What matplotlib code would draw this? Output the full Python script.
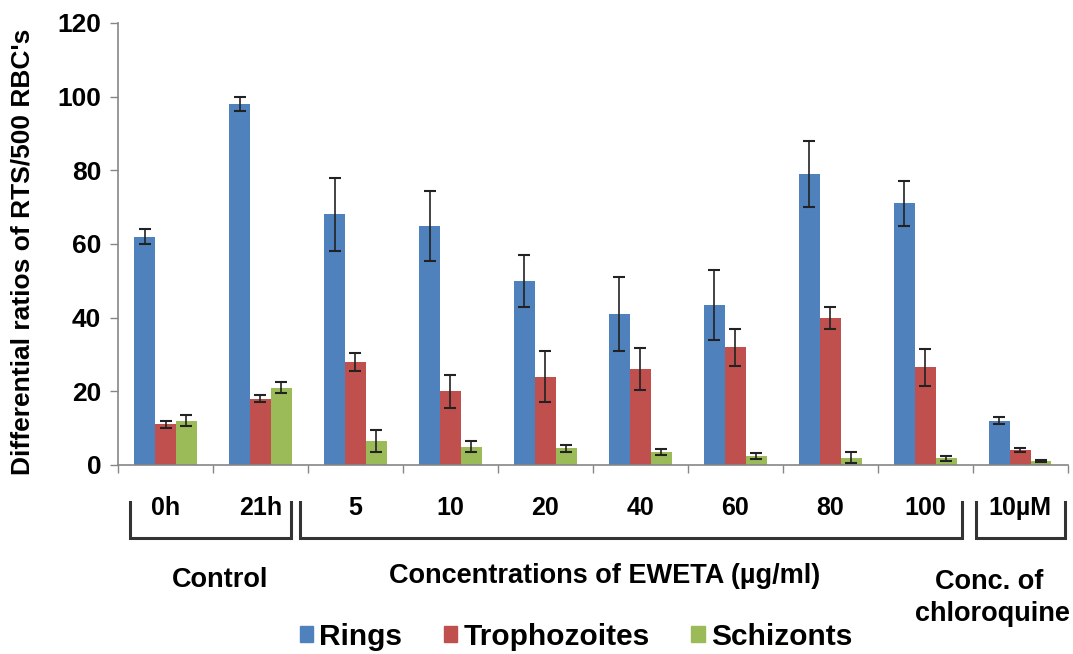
import matplotlib
matplotlib.use('Agg')
import matplotlib.pyplot as plt
from matplotlib.lines import Line2D
from matplotlib.patches import Patch
from matplotlib.transforms import blended_transform_factory
import numpy as np

plt.rcParams['font.family'] = ['Liberation Sans', 'DejaVu Sans']
plt.rcParams['font.weight'] = 'bold'
plt.rcParams['axes.labelweight'] = 'bold'

categories = ['0h', '21h', '5', '10', '20', '40', '60', '80', '100', '10µM']

rings = [62, 98, 68, 65, 50, 41, 43.5, 79, 71, 12]
rings_err = [2, 2, 10, 9.5, 7, 10, 9.5, 9, 6, 1]

trophozoites = [11, 18, 28, 20, 24, 26, 32, 40, 26.5, 4]
trophozoites_err = [1, 1, 2.5, 4.5, 7, 5.7, 5, 3, 5, 0.5]

schizonts = [12, 21, 6.5, 5, 4.5, 3.5, 2.5, 2, 1.8, 1]
schizonts_err = [1.5, 1.5, 3, 1.5, 1, 0.8, 0.8, 1.5, 0.7, 0.3]

series_names = ['Rings', 'Trophozoites', 'Schizonts']
colors = ['#4F81BD', '#C0504D', '#9BBB59']

fig = plt.figure(figsize=(10.73, 6.54), dpi=100)
ax = fig.add_axes([0.110, 0.289, 0.885, 0.676])

x = np.arange(len(categories))
w = 0.22
grey = '#868686'
for k, (vals, errs) in enumerate([(rings, rings_err),
                                  (trophozoites, trophozoites_err),
                                  (schizonts, schizonts_err)]):
    ax.bar(x + (k - 1) * w, vals, w, color=colors[k], label=series_names[k],
           yerr=errs, error_kw=dict(ecolor='#222222', elinewidth=1.2,
                                    capsize=4.5, capthick=1.5))

ax.set_xlim(-0.5, len(categories) - 0.5)
ax.set_ylim(0, 120)
ax.set_yticks(np.arange(0, 121, 20))
ax.tick_params(axis='y', labelsize=19, length=6, width=1, color=grey, pad=6)

# ticks between categories, labels centered
ax.set_xticks(np.arange(-0.5, len(categories), 1))
ax.set_xticklabels([])
ax.set_xticks(x, minor=True)
ax.set_xticklabels(categories, minor=True, fontsize=18)
ax.tick_params(axis='x', which='major', length=6, width=1, color=grey)
ax.tick_params(axis='x', which='minor', length=0, pad=22)

for s in ['top', 'right']:
    ax.spines[s].set_visible(False)
for s in ['left', 'bottom']:
    ax.spines[s].set_color(grey)
    ax.spines[s].set_linewidth(1.2)

ax.set_ylabel("Differential ratios of RTS/500 RBC's", fontsize=19,
              fontweight='bold', va='center')
ax.yaxis.set_label_coords(-0.101, 0.482)

# brackets under the category labels
tr = blended_transform_factory(ax.transData, fig.transFigure)
y_top, y_bot = 1 - 502 / 654, 1 - 538 / 654
for x0, x1 in [(-0.37, 1.32), (1.42, 8.39), (8.54, 9.47)]:
    fig.add_artist(Line2D([x0, x0, x1, x1], [y_top, y_bot, y_bot, y_top],
                          transform=tr, color='#333333', lw=2.2,
                          solid_joinstyle='miter'))

def px(xp, yp):
    return xp / 1073, 1 - yp / 654

fig.text(*px(220, 580), 'Control', fontsize=19.5, ha='center', va='center')
fig.text(*px(605, 576), 'Concentrations of EWETA (µg/ml)', fontsize=19.5,
         ha='center', va='center')
fig.text(*px(989, 582), 'Conc. of', fontsize=19.5, ha='center', va='center')
fig.text(*px(992, 614), 'chloroquine', fontsize=19.5, ha='center', va='center')

handles = [Patch(color=c) for c in colors]
fig.legend(handles, series_names, loc='center', bbox_to_anchor=px(576, 637),
           ncol=3, frameon=False, fontsize=21.5, handlelength=0.45,
           handleheight=0.45, handletextpad=0.2, columnspacing=1.4,
           borderpad=0, borderaxespad=0)

fig.savefig('out.png', dpi=100)
